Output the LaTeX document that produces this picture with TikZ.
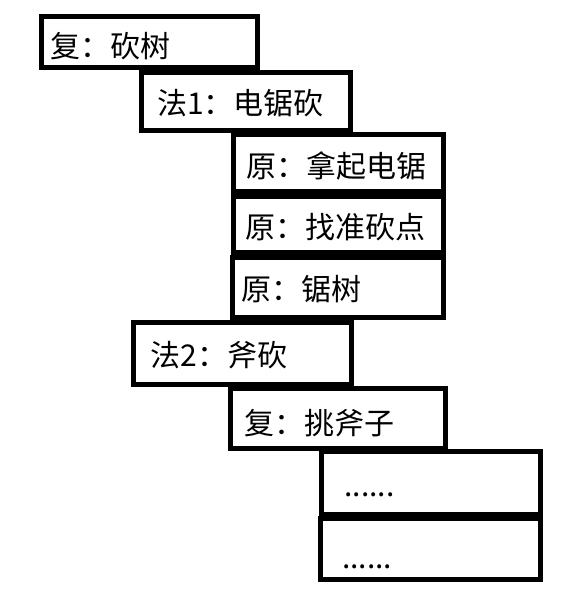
\documentclass[tikz,border=0pt]{standalone}
\usepackage{fontspec}
\newfontfamily\cjk{Noto Sans CJK SC}
\usetikzlibrary{positioning}

\tikzset{
    blk/.style 2 args={draw, line width=3.75pt, minimum width=#1*0.75pt, minimum height=#2*0.75pt, inner sep=0pt, outer sep=0pt},
    lbl/.style={font=\cjk\fontsize{22.5}{27}\selectfont, inner sep=0pt, outer sep=0pt}
}

\begin{document}
\begin{tikzpicture}[x=0.75pt, y=-0.75pt]
    \useasboundingbox (0,0) rectangle (566,611);

    % frames
    \node [blk={216}{51}]     (b1) at (149.5,42) {};
    \node [blk={208.7}{58}]   (b2) at (246.2,101.5) {};
    \node [blk={209.8}{57.5}] (b3) at (338.4,162.8) {};
    \node [blk={210.3}{56}]   (b4) at (338.2,224.5) {};
    \node [blk={210.8}{60}]   (b5) at (337.9,287.5) {};
    \node [blk={217.5}{61.5}] (b6) at (242.3,353.3) {};
    \node [blk={214.7}{60}]   (b7) at (338.2,418.5) {};
    \node [blk={218.5}{62.5}] (b8) at (430.8,482.8) {};
    \node [blk={220}{61.5}]   (b9) at (430,548.8) {};

    % texts
    \node [lbl, right=6.9pt of b1.west, yshift=-2.85pt]  (t1) {复：砍树};
    \node [lbl, right=11.4pt of b2.west, yshift=-1.5pt]  (t2) {法1：电锯砍};
    \node [lbl, right=10.1pt of b3.west, yshift=-2.25pt] (t3) {原：拿起电锯};
    \node [lbl, right=9pt of b4.west, yshift=-2.25pt]    (t4) {原：找准砍点};
    \node [lbl, right=7.1pt of b5.west, yshift=-1.1pt]   (t5) {原：锯树};
    \node [lbl, right=12.9pt of b6.west, yshift=-1.3pt]  (t6) {法2：斧砍};
    \node [lbl, right=9.9pt of b7.west, yshift=-3.4pt]   (t7) {复：挑斧子};
    \node [lbl, right=17.3pt of b8.west, yshift=-9.2pt]  (t8) {......};
    \node [lbl, right=16.6pt of b9.west, yshift=-13.4pt] (t9) {......};
\end{tikzpicture}
\end{document}
